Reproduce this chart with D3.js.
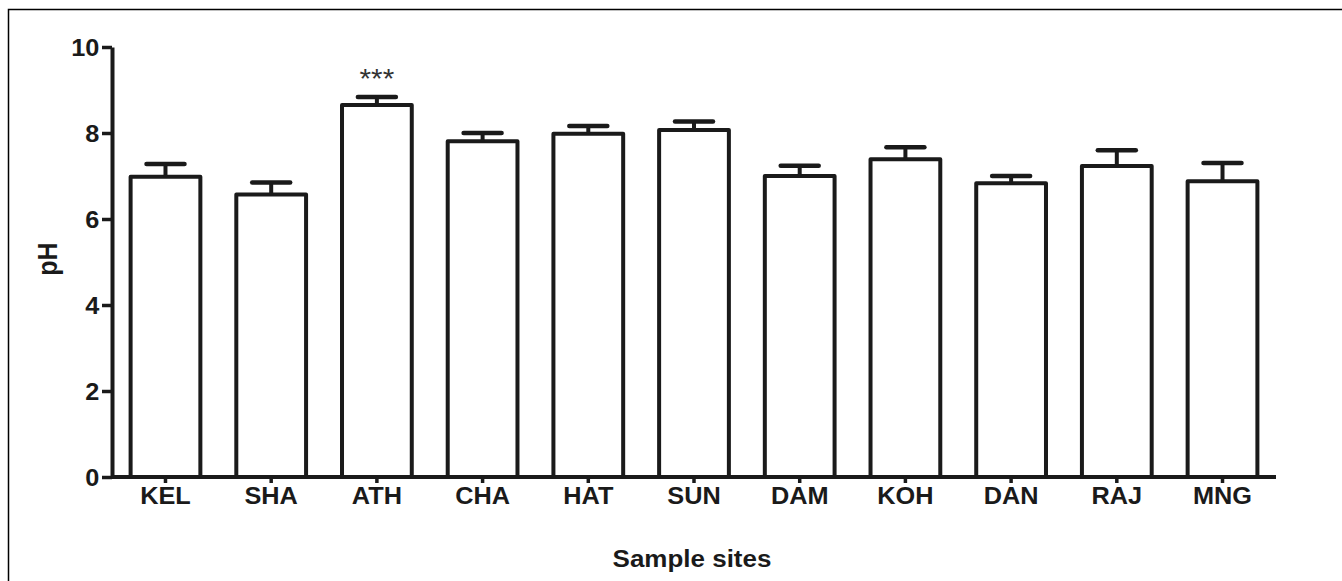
<!DOCTYPE html>
<html><head><meta charset="utf-8">
<script src="https://cdn.jsdelivr.net/npm/d3@7"></script>
<style>body{margin:0;background:#fff}svg{display:block}</style>
</head><body>
<script>
const categories = ["KEL","SHA","ATH","CHA","HAT","SUN","DAM","KOH","DAN","RAJ","MNG"];
const phMeans = [6.98,6.57,8.65,7.81,7.98,8.07,7.00,7.39,6.83,7.23,6.88];
const phErrors = [0.30,0.28,0.19,0.19,0.18,0.20,0.24,0.28,0.17,0.37,0.42];
const yTicks = [0,2,4,6,8,10];
const significance = ["","","***","","","","","","","",""];

(function(){
const W = 1342, H = 581;
const mLeft = 112, mRight = 1276, mTop = 47, mBottom = 477;
const SX = 1.1;
const font = "'Liberation Sans', Arial, sans-serif";

const svg = d3.select("body").append("svg").attr("width", W).attr("height", H);
svg.append("rect").attr("width", W).attr("height", H).attr("fill", "#fff");
// frame
svg.append("path").attr("d", `M8.5,${H}V9.5H${W}`).attr("fill","none").attr("stroke","#000").attr("stroke-width",1.5);

const x = d3.scaleBand().domain(categories).range([mLeft, mRight]).paddingInner(0.34).paddingOuter(0.176);
const y = d3.scaleLinear().domain([0,10]).range([mBottom, mTop]);

const ink = "#1a1a1a";
const g = svg.append("g");

// bars
g.selectAll("rect.bar").data(categories).join("rect")
  .attr("class","bar")
  .attr("x", d => x(d))
  .attr("y", (d,i) => y(phMeans[i]))
  .attr("width", x.bandwidth())
  .attr("height", (d,i) => y(0) - y(phMeans[i]))
  .attr("fill","#fff").attr("stroke", ink).attr("stroke-width", 4).attr("stroke-linejoin","round");

// error bars
const capW = 38;
g.selectAll("line.err").data(categories).join("line")
  .attr("class","err")
  .attr("x1", d => x(d) + x.bandwidth()/2).attr("x2", d => x(d) + x.bandwidth()/2)
  .attr("y1", (d,i) => y(phMeans[i])).attr("y2", (d,i) => y(phMeans[i] + phErrors[i]))
  .attr("stroke", ink).attr("stroke-width", 4);
g.selectAll("line.cap").data(categories).join("line")
  .attr("class","cap")
  .attr("x1", d => x(d) + x.bandwidth()/2 - capW/2).attr("x2", d => x(d) + x.bandwidth()/2 + capW/2)
  .attr("y1", (d,i) => y(phMeans[i] + phErrors[i])).attr("y2", (d,i) => y(phMeans[i] + phErrors[i]))
  .attr("stroke", ink).attr("stroke-width", 4.5).attr("stroke-linecap","round");

// significance
g.selectAll("text.sig").data(categories).join("text")
  .attr("class","sig")
  .attr("transform", (d,i) => `translate(${x(d)+x.bandwidth()/2},${y(phMeans[i]+phErrors[i]) - 9}) scale(${SX},1)`)
  .attr("text-anchor","middle").attr("font-family", font).attr("font-size", 27).attr("fill", "#333")
  .text((d,i) => significance[i]);

// y axis
const yAxis = svg.append("g").attr("transform", `translate(${mLeft},0)`)
  .call(d3.axisLeft(y).tickValues(yTicks).tickFormat(d3.format("d")).tickSize(10).tickSizeOuter(0).tickPadding(1));
yAxis.select(".domain").attr("stroke", ink).attr("stroke-width", 4);
yAxis.selectAll(".tick line").attr("stroke", ink).attr("stroke-width", 3.5);
yAxis.selectAll(".tick text").attr("font-family", font).attr("font-weight","bold").attr("font-size", 23)
  .attr("fill", ink).attr("x", -11.5).attr("dy", "0.36em").attr("transform", `scale(${SX},1)`);

// x axis
const xAxis = svg.append("g").attr("transform", `translate(0,${mBottom})`)
  .call(d3.axisBottom(x).tickSize(6).tickSizeOuter(0).tickPadding(4));
xAxis.select(".domain").attr("stroke", ink).attr("stroke-width", 4).attr("d", `M${mLeft},0H${mRight}`);
xAxis.selectAll(".tick line").attr("stroke", ink).attr("stroke-width", 3.5);
xAxis.selectAll(".tick text").attr("font-family", font).attr("font-weight","bold").attr("font-size", 23)
  .attr("fill", ink).attr("y", 11).attr("dy", "0.71em").attr("transform", `scale(${SX},1)`)
  .attr("x", 0);

// axis titles
svg.append("text").attr("transform", `translate(692,567) scale(1.13,1)`)
  .attr("text-anchor","middle").attr("font-family", font).attr("font-weight","bold").attr("font-size", 23)
  .attr("fill", ink).text("Sample sites");
svg.append("text").attr("transform", `translate(57,259) rotate(-90) scale(1,1.1)`)
  .attr("text-anchor","middle").attr("font-family", font).attr("font-weight","bold").attr("font-size", 25)
  .attr("fill", ink).text("pH");
})();
</script>
</body></html>
